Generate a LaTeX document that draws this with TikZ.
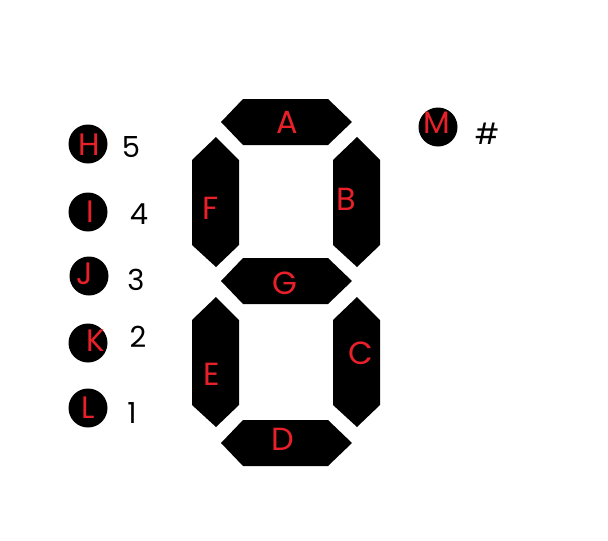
\documentclass[tikz,border=0pt]{standalone}
\usepackage{fontspec}
\setmainfont{Poppins}
\definecolor{segred}{HTML}{E8202A}
\begin{document}
\begin{tikzpicture}[x=1pt,y=-1pt,
  seg/.style={fill=black,draw=none},
  segl/.style={text=segred,font=\fontsize{32}{32}\selectfont,inner sep=0pt,anchor=center},
  pin/.style={circle,fill=black,minimum size=39pt,inner sep=0pt},
  pinl/.style={text=segred,font=\fontsize{31}{31}\selectfont,inner sep=0pt,anchor=center},
  num/.style={text=black,font=\fontsize{29}{29}\selectfont,inner sep=0pt,anchor=center}]
\useasboundingbox[fill=white] (0,0) rectangle (608,541);
% horizontal segments
\foreach \n/\y in {A/122,G/281,D/443}{
  \fill[seg] (221,\y) -- (243,\y-23) -- (328,\y-23) -- (352,\y) -- (328,\y+23) -- (243,\y+23) -- cycle;
}
% vertical segments
\foreach \n/\x/\y in {F/216/137,B/357/137,E/216/297,C/357/297}{
  \fill[seg] (\x,\y) -- (\x+23,\y+23) -- (\x+23,\y+108) -- (\x,\y+130) -- (\x-24,\y+108) -- (\x-24,\y+23) -- cycle;
}
\node[segl] (la) at (287,122) {A};
\node[segl] (lb) at (346,199) {B};
\node[segl] (lc) at (361,353) {C};
\node[segl] (ld) at (283,439) {D};
\node[segl] (le) at (212,374) {E};
\node[segl] (lf) at (211,208) {F};
\node[segl] (lg) at (285,283) {G};
% pins
\node[pin] (h) at (88,144) {};
\node[pin] (i) at (88,212) {};
\node[pin] (j) at (89,276) {};
\node[pin] (k) at (88,343) {};
\node[pin] (l) at (88,408) {};
\node[pin] (m) at (438,127) {};
\node[pinl] (hl) at (89,145) {H};
\node[pinl] (il) at (90,212) {I};
\node[pinl] (jl) at (85,274) {J};
\node[pinl] (kl) at (96,341) {K};
\node[pinl] (ll) at (88,408) {L};
\node[pinl] (ml) at (437,123) {M};
\node[num] (n5) at (131,147) {5};
\node[num] (n4) at (139,214) {4};
\node[num] (n3) at (136,280) {3};
\node[num] (n2) at (138,337) {2};
\node[num] (n1) at (132,413) {1};
\node[num] (nh) at (487,134) {\#};
\end{tikzpicture}
\end{document}
